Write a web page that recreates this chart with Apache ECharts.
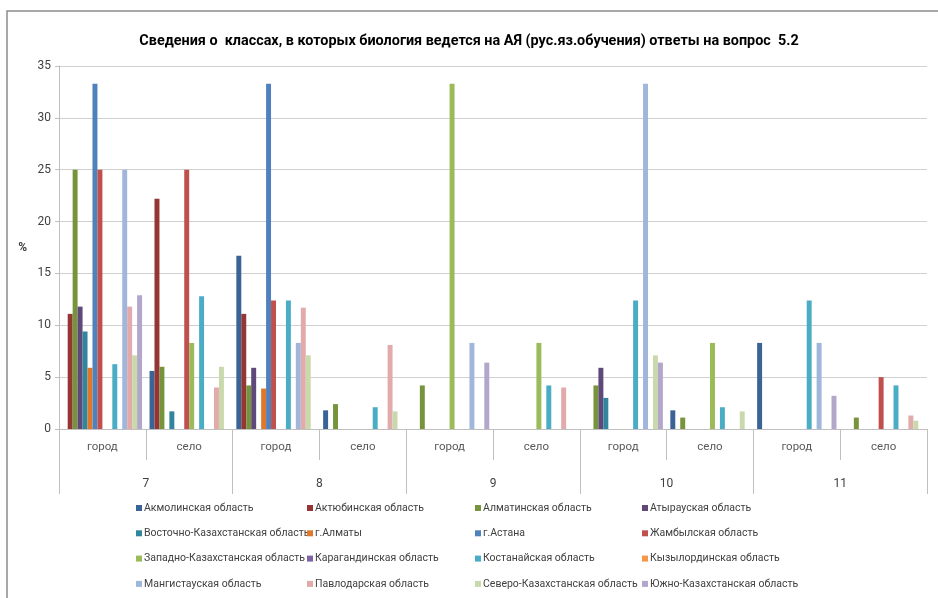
<!DOCTYPE html>
<html>
<head>
    <meta charset="utf-8">
    <title>Сведения о классах</title>
    <script src="https://cdn.jsdelivr.net/npm/echarts@6/dist/echarts.min.js"></script>
    <style>
        html, body { margin: 0; padding: 0; background: #fff; }
        #chart { width: 938px; height: 598px; }
    </style>
</head>
<body>
<div id="chart"></div>
<script>
    // категории: класс / город-село
    var subCats = ['город', 'село', 'город', 'село', 'город', 'село', 'город', 'село', 'город', 'село'];
    var grades = ['7', '8', '9', '10', '11'];
    var yTicks = [0, 5, 10, 15, 20, 25, 30, 35];

    var regions = [
        'Акмолинская область', 'Актюбинская область', 'Алматинская область', 'Атырауская область',
        'Восточно-Казахстанская область', 'г.Алматы', 'г.Астана', 'Жамбылская область',
        'Западно-Казахстанская область', 'Карагандинская область', 'Костанайская область', 'Кызылординская область',
        'Мангистауская область', 'Павлодарская область', 'Северо-Казахстанская область', 'Южно-Казахстанская область'
    ];
    var colors = [
        '#3A6396', '#943634', '#77933C', '#5F497A',
        '#31859C', '#E0782C', '#4F81BD', '#C0504D',
        '#9BBB59', '#8064A2', '#4BACC6', '#F79646',
        '#A0B6DB', '#E2AAAA', '#CAD9AC', '#B3A6CB'
    ];

    // значения, %
    var akmola     = [0, 5.6, 16.7, 1.8, 0, 0, 0, 1.8, 8.3, 0];
    var aktobe     = [11.1, 22.2, 11.1, 0, 0, 0, 0, 0, 0, 0];
    var almatyObl  = [25, 6, 4.2, 2.4, 4.2, 0, 4.2, 1.1, 0, 1.1];
    var atyrau     = [11.8, 0, 5.9, 0, 0, 0, 5.9, 0, 0, 0];
    var vko        = [9.4, 1.7, 0, 0, 0, 0, 3.0, 0, 0, 0];
    var almatyCity = [5.9, 0, 3.9, 0, 0, 0, 0, 0, 0, 0];
    var astana     = [33.3, 0, 33.3, 0, 0, 0, 0, 0, 0, 0];
    var zhambyl    = [25, 25, 12.4, 0, 0, 0, 0, 0, 0, 5.0];
    var zko        = [0, 8.3, 0, 0, 33.3, 8.3, 0, 8.3, 0, 0];
    var karaganda  = [0, 0, 0, 0, 0, 0, 0, 0, 0, 0];
    var kostanay   = [6.25, 12.8, 12.4, 2.1, 0, 4.2, 12.4, 2.1, 12.4, 4.2];
    var kyzylorda  = [0, 0, 0, 0, 0, 0, 0, 0, 0, 0];
    var mangystau  = [25, 0, 8.3, 0, 8.3, 0, 33.3, 0, 8.3, 0];
    var pavlodar   = [11.8, 4.0, 11.7, 8.1, 0, 4.0, 0, 0, 0, 1.3];
    var sko        = [7.1, 6, 7.1, 1.7, 0, 0, 7.1, 1.7, 0, 0.8];
    var yko        = [12.9, 0, 0, 0, 6.4, 0, 6.4, 0, 3.2, 0];

    var values = [akmola, aktobe, almatyObl, atyrau, vko, almatyCity, astana, zhambyl,
                  zko, karaganda, kostanay, kyzylorda, mangystau, pavlodar, sko, yko];

    var font = "Roboto, 'Liberation Sans', sans-serif";

    var series = [];
    for (var i = 0; i < regions.length; i++) {
        series.push({
            name: regions[i],
            type: 'bar',
            xAxisIndex: 0,
            data: values[i],
            barGap: '0%',
            barCategoryGap: '8.6%',
            itemStyle: { color: colors[i] }
        });
    }

    // легенда в 4 колонки
    var legendCols = [131, 302, 470, 637];
    var legends = [];
    for (var c = 0; c < 4; c++) {
        var d = [];
        for (var r = 0; r < 4; r++) d.push(regions[r * 4 + c]);
        legends.push({
            data: d,
            orient: 'vertical',
            left: legendCols[c],
            top: 497,
            itemWidth: 6,
            itemHeight: 6,
            itemGap: 13.3,
            icon: 'rect',
            selectedMode: false,
            textStyle: { fontFamily: font, fontSize: 10.5, lineHeight: 12, color: '#404040', padding: [0, 0, 0, -3] }
        });
    }

    var $echart = echarts.init(document.getElementById('chart'));
    $echart.setOption({
        animation: false,
        title: {
            text: 'Сведения о  классах, в которых биология ведется на АЯ (рус.яз.обучения) ответы на вопрос  5.2',
            left: 'center',
            top: 29,
            textStyle: { fontFamily: font, fontSize: 14.4, fontWeight: 'bold', color: '#000' }
        },
        legend: legends,
        graphic: [{
            type: 'rect',
            shape: { x: 7, y: 11, width: 950, height: 610 },
            style: { fill: 'none', stroke: '#8c8c8c', lineWidth: 1.5 },
            silent: true
        }],
        grid: { left: 59, right: 11, top: 66, bottom: 169 },
        xAxis: [{
            type: 'category',
            data: subCats,
            axisLine: { lineStyle: { color: '#bfbfbf' } },
            axisTick: { show: true, interval: 0, length: 31, lineStyle: { color: '#bfbfbf' } },
            axisLabel: { margin: 12, fontFamily: font, fontSize: 11.5, color: '#595959' }
        }, {
            type: 'category',
            data: grades,
            position: 'bottom',
            offset: 31,
            axisLine: { show: false },
            axisTick: { show: true, interval: 0, length: 34, lineStyle: { color: '#bfbfbf' } },
            axisLabel: { margin: 18, fontFamily: font, fontSize: 12, color: '#404040' }
        }],
        yAxis: {
            type: 'value',
            min: yTicks[0],
            max: yTicks[yTicks.length - 1],
            interval: 5,
            name: '%',
            nameLocation: 'middle',
            nameRotate: 0,
            nameGap: 32,
            nameTextStyle: { fontFamily: font, fontSize: 12, fontWeight: 'bold', color: '#404040' },
            axisLine: { show: true, lineStyle: { color: '#bfbfbf' } },
            axisTick: { show: true, length: 4, lineStyle: { color: '#bfbfbf' } },
            axisLabel: { fontFamily: font, fontSize: 12, color: '#404040', margin: 8 },
            splitLine: { lineStyle: { color: '#d0d0d0' } }
        },
        series: series
    });
</script>
</body>
</html>
